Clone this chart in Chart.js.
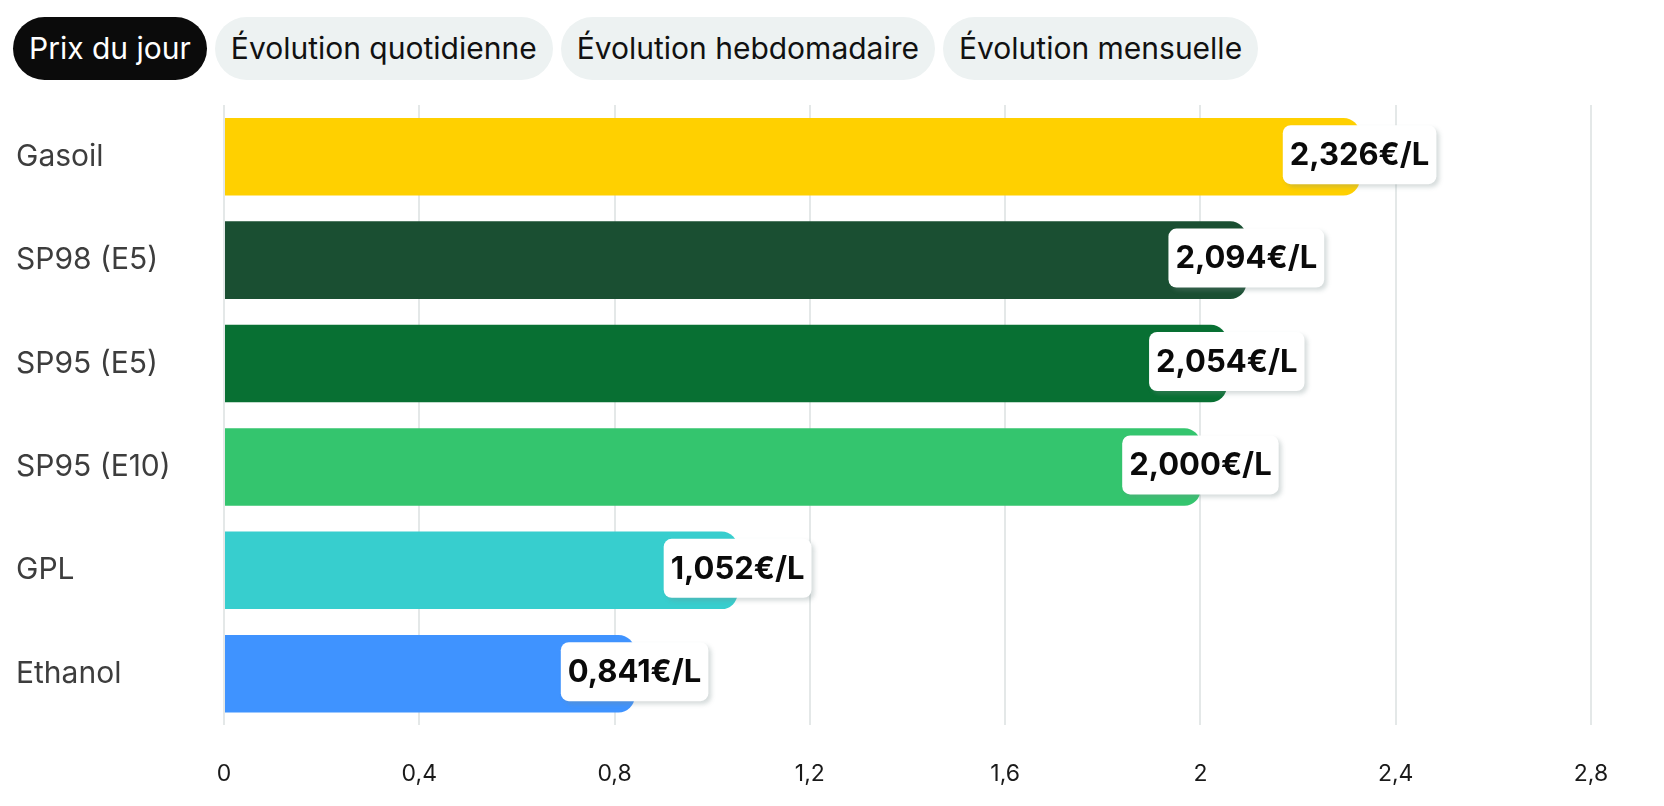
<!DOCTYPE html>
<html lang="fr">
<head>
<meta charset="utf-8">
<title>Prix des carburants</title>
<script src="https://cdn.jsdelivr.net/npm/chart.js@4/dist/chart.umd.min.js"></script>
<style>
  html, body { margin: 0; padding: 0; background: #fff; width: 1664px; height: 806px; overflow: hidden; font-family: Inter, "Noto Sans", sans-serif; }
  .tabs { position: absolute; left: 13px; top: 17px; display: flex; gap: 8px; }
  .tab { height: 63px; line-height: 63px; padding: 0 16px; border-radius: 32px; background: #edf2f2; color: #111; font-size: 30px; white-space: nowrap; }
  .tab.active { background: #0b0b0b; color: #fff; }
  #prixChart { position: absolute; left: 0; top: 87px; }
</style>
</head>
<body>
<div class="tabs">
  <div class="tab active">Prix du jour</div>
  <div class="tab">Évolution quotidienne</div>
  <div class="tab">Évolution hebdomadaire</div>
  <div class="tab">Évolution mensuelle</div>
</div>
<canvas id="prixChart" width="1664" height="752"></canvas>
<script>
// --- DATA ---
const fuels = ['Gasoil', 'SP98 (E5)', 'SP95 (E5)', 'SP95 (E10)', 'GPL', 'Ethanol'];
const prices = [2.326, 2.094, 2.054, 2.000, 1.052, 0.841];
const fuelColors = ['#FFD000', '#1A4F32', '#087033', '#34C56E', '#37CECE', '#3F93FF'];
const xMin = 0, xMax = 2.8, xStep = 0.4;

const fmtPrice = v => v.toFixed(3).replace('.', ',') + '€/L';
const fmtTick = v => String(+v.toFixed(1)).replace('.', ',');

function roundRect(ctx, x, y, w, h, r) {
    ctx.beginPath();
    ctx.moveTo(x + r, y);
    ctx.arcTo(x + w, y, x + w, y + h, r);
    ctx.arcTo(x + w, y + h, x, y + h, r);
    ctx.arcTo(x, y + h, x, y, r);
    ctx.arcTo(x, y, x + w, y, r);
    ctx.closePath();
}

// value badges at the end of each bar
const priceBadges = {
    id: 'priceBadges',
    afterDatasetsDraw(chart) {
        const ctx = chart.ctx;
        const meta = chart.getDatasetMeta(0);
        ctx.save();
        ctx.font = '700 31px Inter, sans-serif';
        ctx.textBaseline = 'middle';
        ctx.textAlign = 'center';
        meta.data.forEach((bar, i) => {
            const txt = fmtPrice(prices[i]);
            const w = ctx.measureText(txt).width + 14;
            const h = 59;
            const cy = bar.y - 2;
            const x = bar.x - w / 2, y = cy - h / 2;
            ctx.save();
            ctx.shadowColor = 'rgba(120,140,140,0.3)';
            ctx.shadowBlur = 4;
            ctx.shadowOffsetX = 3;
            ctx.shadowOffsetY = 3;
            ctx.fillStyle = '#fff';
            roundRect(ctx, x, y, w, h, 8);
            ctx.fill();
            ctx.restore();
            ctx.fillStyle = '#0a0a0a';
            ctx.fillText(txt, bar.x, cy + 1);
        });
        ctx.restore();
    }
};

new Chart(document.getElementById('prixChart'), {
    type: 'bar',
    data: {
        labels: fuels,
        datasets: [{
            data: prices,
            backgroundColor: fuelColors,
            borderWidth: 0,
            borderRadius: 16,
            borderSkipped: 'start',
            barPercentage: 0.75,
            categoryPercentage: 1
        }]
    },
    options: {
        indexAxis: 'y',
        responsive: false,
        animation: false,
        devicePixelRatio: 1,
        layout: { padding: { top: 8, left: 16, right: 73, bottom: 16 } },
        plugins: { legend: { display: false }, tooltip: { enabled: false } },
        scales: {
            x: {
                min: xMin, max: xMax,
                border: { display: false },
                grid: { color: '#e4e8e8', lineWidth: 2, drawTicks: false },
                ticks: {
                    stepSize: xStep,
                    padding: 35,
                    color: '#1a1a1a',
                    font: { family: 'Inter', size: 23 },
                    callback: v => fmtTick(v)
                }
            },
            y: {
                border: { display: false },
                grid: { display: false, drawTicks: false },
                afterFit: s => { s.width = 208; },
                ticks: {
                    crossAlign: 'far',
                    padding: 0,
                    color: '#3d3d3d',
                    font: { family: 'Inter', size: 30 }
                }
            }
        }
    },
    plugins: [priceBadges]
});
</script>
</body>
</html>
